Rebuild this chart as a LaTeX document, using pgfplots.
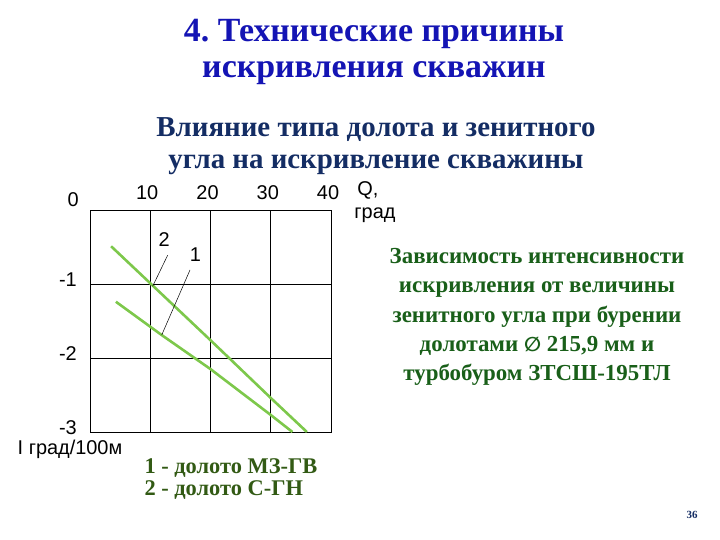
\documentclass[border=0pt]{standalone}
\usepackage{pgfplots}
\pgfplotsset{compat=1.18}
\usepackage{fontspec}
\setmainfont{Liberation Serif}
\newfontfamily\sansf{Liberation Sans}
\newfontfamily\djv{DejaVu Sans}
\definecolor{titleblue}{RGB}{20,20,180}
\definecolor{subnavy}{RGB}{20,45,100}
\definecolor{dkgreen}{RGB}{25,95,25}
\definecolor{olivegr}{RGB}{50,90,20}
\definecolor{linegreen}{RGB}{125,200,75}
\frenchspacing
\begin{document}
\begin{tikzpicture}[x=1bp,y=1bp]
\path[use as bounding box, fill=white] (0,0) rectangle (720,540);
\node[font=\fontsize{34}{37}\selectfont\bfseries, text=titleblue, align=center] at (374,488) {4. Технические причины\\искривления скважин};
\node[font=\fontsize{29}{32}\selectfont\bfseries, text=subnavy, align=center] at (376,394) {Влияние типа долота и зенитного\\угла на искривление скважины};
\node[font=\fontsize{23}{29.5}\selectfont\bfseries, text=dkgreen, align=center] at (537,223) {Зависимость интенсивности\\искривления от величины\\зенитного угла при бурении\\долотами {\djv\fontsize{20}{20}\selectfont ∅} 215,9 мм и\\турбобуром ЗТСШ-195ТЛ};
\node[font=\fontsize{22.5}{22}\selectfont\bfseries, text=olivegr, align=left, anchor=west] at (141,61) {1 - долото МЗ-ГВ\\2 - долото С-ГН};
\node[font=\fontsize{11}{12}\selectfont\bfseries, text=subnavy] at (692,25) {36};
\node[font=\sansf\fontsize{20}{20}\selectfont] at (368,350) {Q,};
\node[font=\sansf\fontsize{20}{20}\selectfont] at (375,325) {град};
\node[font=\sansf\fontsize{20}{20}\selectfont] at (70,91) {I град/100м};
\begin{axis}[at={(90bp,108bp)}, anchor=south west, scale only axis,
  width=241bp, height=222bp,
  xmin=0, xmax=40, ymin=-3, ymax=0,
  xtick={10,20,30,40}, xticklabels={10,20,30,40}, xticklabel pos=upper,
  ytick={-3,-2,-1}, yticklabels={-3,-2,-1},
  extra y ticks={0}, extra y tick labels={0},
  extra y tick style={yticklabel style={yshift=6bp, xshift=2bp}},
  grid=major, major grid style={black, line width=0.8pt},
  major tick length=0pt,
  axis line style={black, line width=0.8pt},
  tick label style={font=\sansf\fontsize{20}{20}\selectfont, inner sep=0pt},
  xticklabel style={anchor=south, yshift=10bp, xshift=-3bp},
  yticklabel style={anchor=east, xshift=-13bp, yshift=4bp},
  clip=false]
\addplot[linegreen, line width=2.6pt] coordinates {(3.5,-0.49) (10,-0.99) (20,-1.76) (30,-2.54) (36,-3.0)};
\addplot[linegreen, line width=2.6pt] coordinates {(4.3,-1.24) (11.9,-1.69) (20,-2.15) (30,-2.77) (33.6,-3.0)};
\draw[black, line width=0.5pt] (axis cs:12.9,-0.61) -- (axis cs:10.4,-1.03);
\draw[black, line width=0.5pt] (axis cs:16.6,-0.81) -- (axis cs:11.9,-1.69);
\node[font=\sansf\fontsize{20}{20}\selectfont] at (axis cs:12.3,-0.405) {2};
\node[font=\sansf\fontsize{20}{20}\selectfont] at (axis cs:17.5,-0.61) {1};
\end{axis}
\end{tikzpicture}
\end{document}
